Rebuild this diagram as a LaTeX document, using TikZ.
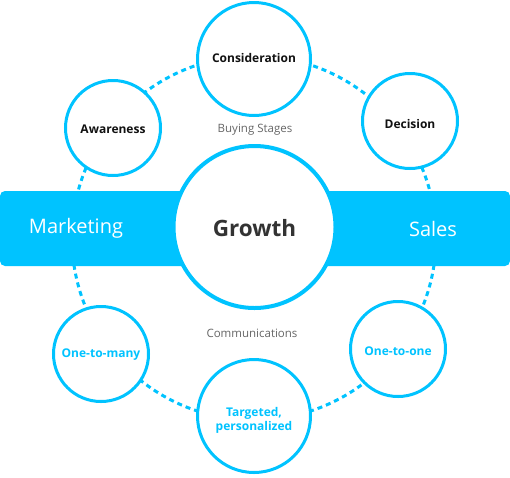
\documentclass[tikz,border=0pt]{standalone}
\usepackage{fontspec}
\setmainfont{Open Sans}
\definecolor{cblue}{HTML}{00C3FF}
\definecolor{darktxt}{HTML}{111111}
\definecolor{growtxt}{HTML}{333333}
\definecolor{graytxt}{HTML}{666666}
\begin{document}
\begin{tikzpicture}[x=1pt,y=-1pt,
  stage/.style={circle,draw=cblue,line width=3pt,fill=white,inner sep=0pt},
  darklbl/.style={font=\fontsize{12}{14}\selectfont\bfseries,text=darktxt,align=center},
  bluelbl/.style={font=\fontsize{12}{14}\selectfont\bfseries,text=cblue,align=center},
  graylbl/.style={font=\fontsize{11.5}{14}\selectfont,text=graytxt},
  bandlbl/.style={font=\fontsize{20}{24}\selectfont,text=white},
  ring/.style={draw=cblue,line width=3pt,dash pattern=on 5pt off 4pt}]
\useasboundingbox (0,0) rectangle (510,477);
\coordinate (ringc) at (254,238);
\draw[ring] (ringc) circle[radius=182];
\node[fill=cblue,rounded corners=5pt,minimum width=510pt,minimum height=75pt,inner sep=0pt] (band) at (255,228.5) {};
\node[stage,line width=4pt,minimum size=162pt] (growth) at (254.5,227) {};
\node[font=\fontsize{22.5}{26}\selectfont\bfseries,text=growtxt] (growthlbl) at (254.5,228) {Growth};
\node[bandlbl] (mkt) at (76,228.5) {Marketing};
\node[bandlbl] (sales) at (433,228.5) {Sales};
\node[stage,minimum size=113pt] (consid) at (254,59) {};
\node[darklbl] (considlbl) at (254,57.5) {Consideration};
\node[stage,minimum size=95pt] (aware) at (113,128) {};
\node[darklbl] (awarelbl) at (113,129.5) {Awareness};
\node[stage,minimum size=95pt] (decis) at (410,121) {};
\node[darklbl] (decislbl) at (410,123.5) {Decision};
\node[stage,minimum size=95pt] (many) at (101,354) {};
\node[bluelbl] (manylbl) at (101,354.5) {One-to-many};
\node[stage,minimum size=113pt] (target) at (254,416) {};
\node[bluelbl] (targetlbl) at (254,420) {Targeted,\\personalized};
\node[stage,minimum size=95pt] (one) at (398,349) {};
\node[bluelbl] (onelbl) at (398,351.5) {One-to-one};
\node[graylbl] (buying) at (255,130) {Buying Stages};
\node[graylbl] (comm) at (252,333) {Communications};
\end{tikzpicture}
\end{document}
